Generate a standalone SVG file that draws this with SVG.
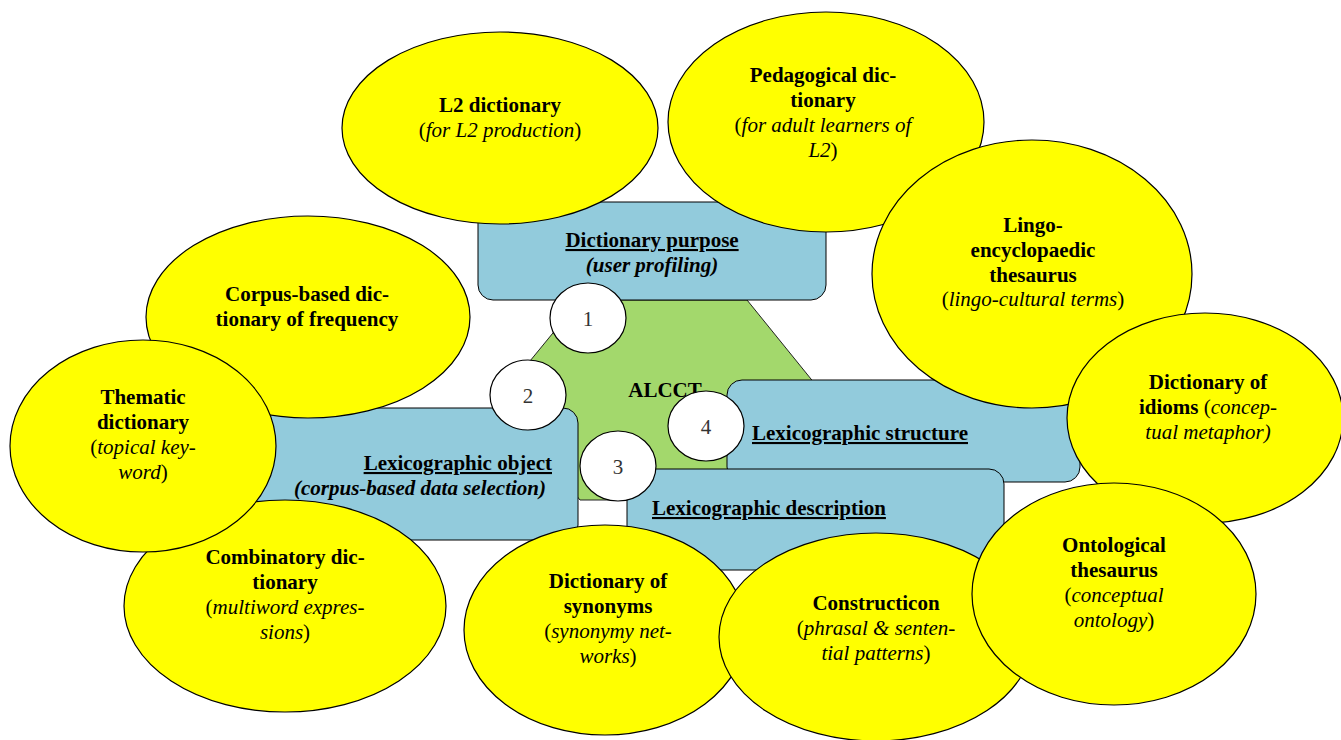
<svg xmlns="http://www.w3.org/2000/svg" width="1341" height="740" viewBox="0 0 1341 740">
<style>
text{font-family:"Liberation Serif","Times New Roman",serif;font-size:21px;fill:#000;text-anchor:middle}
.b{font-weight:bold}
.i{font-style:italic}
.r{font-style:normal}
.u{text-decoration:underline}
.st{text-anchor:start}
.en{text-anchor:end}
.hex{fill:#A3D86C;stroke:#222;stroke-width:1}
.box{fill:#92CBDC;stroke:#000;stroke-width:1}
.ell{fill:#FFFF00;stroke:#000;stroke-width:1.2}
.num{fill:#fff;stroke:#000;stroke-width:1.2}
.n{font-size:21px;fill:#333}
</style>
<rect width="1341" height="740" fill="#fff"/>
<g id="hexagon">
<polygon class="hex" points="580,300 747,300 828,400 747,500 580,500 498,400"/>
<text class="b" x="665" y="397">ALCCT</text>
</g>
<g id="box-purpose">
<rect class="box" x="478" y="202" width="348" height="98" rx="15"/>
<text class="b u" x="652" y="247">Dictionary purpose</text>
<text class="b i" x="652" y="272">(user profiling)</text>
</g>
<g id="box-object">
<rect class="box" x="200" y="408" width="378" height="132" rx="15"/>
<text class="b u en" x="552" y="470">Lexicographic object</text>
<text class="b i en" x="546" y="495">(corpus-based data selection)</text>
</g>
<g id="box-structure">
<rect class="box" x="727" y="380" width="353" height="102" rx="15"/>
<text class="b u st" x="752" y="440">Lexicographic structure</text>
</g>
<g id="box-description">
<rect class="box" x="627" y="469" width="377" height="101" rx="15"/>
<text class="b u st" x="652" y="515">Lexicographic description</text>
</g>
<g id="connectors"></g>
<g id="e-l2">
<ellipse class="ell" cx="500" cy="128" rx="158" ry="96"/>
<text class="b" x="500" y="112">L2 dictionary</text>
<text x="500" y="137">(<tspan class="i">for L2 production</tspan>)</text>
</g>
<g id="e-pedagogical">
<ellipse class="ell" cx="826" cy="122" rx="158" ry="110"/>
<text class="b" x="823" y="82">Pedagogical dic-</text>
<text class="b" x="823" y="107">tionary</text>
<text x="823" y="132">(<tspan class="i">for adult learners of</tspan></text>
<text x="823" y="157"><tspan class="i">L2</tspan>)</text>
</g>
<g id="e-lingo">
<ellipse class="ell" cx="1032" cy="274" rx="160" ry="134"/>
<text class="b" x="1033" y="232">Lingo-</text>
<text class="b" x="1033" y="257">encyclopaedic</text>
<text class="b" x="1033" y="282">thesaurus</text>
<text x="1033" y="306">(<tspan class="i">lingo-cultural terms</tspan>)</text>
</g>
<g id="e-idioms">
<ellipse class="ell" cx="1205" cy="418" rx="138" ry="105"/>
<text class="b" x="1208" y="389">Dictionary of</text>
<text x="1208" y="414"><tspan class="b">idioms</tspan> (<tspan class="i">concep-</tspan></text>
<text class="i" x="1208" y="439">tual metaphor)</text>
</g>
<g id="e-corpus">
<ellipse class="ell" cx="308" cy="317" rx="162" ry="101"/>
<text class="b" x="307" y="301">Corpus-based dic-</text>
<text class="b" x="307" y="326">tionary of frequency</text>
</g>
<g id="e-combinatory">
<ellipse class="ell" cx="285" cy="606" rx="161" ry="106"/>
<text class="b" x="285" y="564">Combinatory dic-</text>
<text class="b" x="285" y="589">tionary</text>
<text x="285" y="614">(<tspan class="i">multiword expres-</tspan></text>
<text x="285" y="639"><tspan class="i">sions</tspan>)</text>
</g>
<g id="e-thematic">
<ellipse class="ell" cx="143" cy="446" rx="133" ry="106"/>
<text class="b" x="143" y="404">Thematic</text>
<text class="b" x="143" y="429">dictionary</text>
<text x="143" y="454">(<tspan class="i">topical key-</tspan></text>
<text x="143" y="479"><tspan class="i">word</tspan>)</text>
</g>
<g id="e-synonyms">
<ellipse class="ell" cx="605" cy="630" rx="141" ry="105"/>
<text class="b" x="608" y="588">Dictionary of</text>
<text class="b" x="608" y="613">synonyms</text>
<text x="608" y="638">(<tspan class="i">synonymy net-</tspan></text>
<text x="608" y="663"><tspan class="i">works</tspan>)</text>
</g>
<g id="e-constructicon">
<ellipse class="ell" cx="876" cy="637" rx="157" ry="104"/>
<text class="b" x="876" y="610">Constructicon</text>
<text x="876" y="635">(<tspan class="i">phrasal &amp; senten-</tspan></text>
<text x="876" y="660"><tspan class="i">tial patterns</tspan>)</text>
</g>
<g id="e-ontological">
<ellipse class="ell" cx="1114" cy="594" rx="142" ry="111"/>
<text class="b" x="1114" y="552">Ontological</text>
<text class="b" x="1114" y="577">thesaurus</text>
<text x="1114" y="602">(<tspan class="i">conceptual</tspan></text>
<text x="1114" y="627"><tspan class="i">ontology</tspan>)</text>
</g>
<g id="c1">
<ellipse class="num" cx="588" cy="318" rx="38" ry="35"/>
<text class="n" x="588" y="326">1</text>
</g>
<g id="c2">
<ellipse class="num" cx="528" cy="395" rx="38" ry="35"/>
<text class="n" x="528" y="403">2</text>
</g>
<g id="c3">
<ellipse class="num" cx="618" cy="466" rx="38" ry="35"/>
<text class="n" x="618" y="474">3</text>
</g>
<g id="c4">
<ellipse class="num" cx="706" cy="426" rx="38" ry="35"/>
<text class="n" x="706" y="434">4</text>
</g>
</svg>
